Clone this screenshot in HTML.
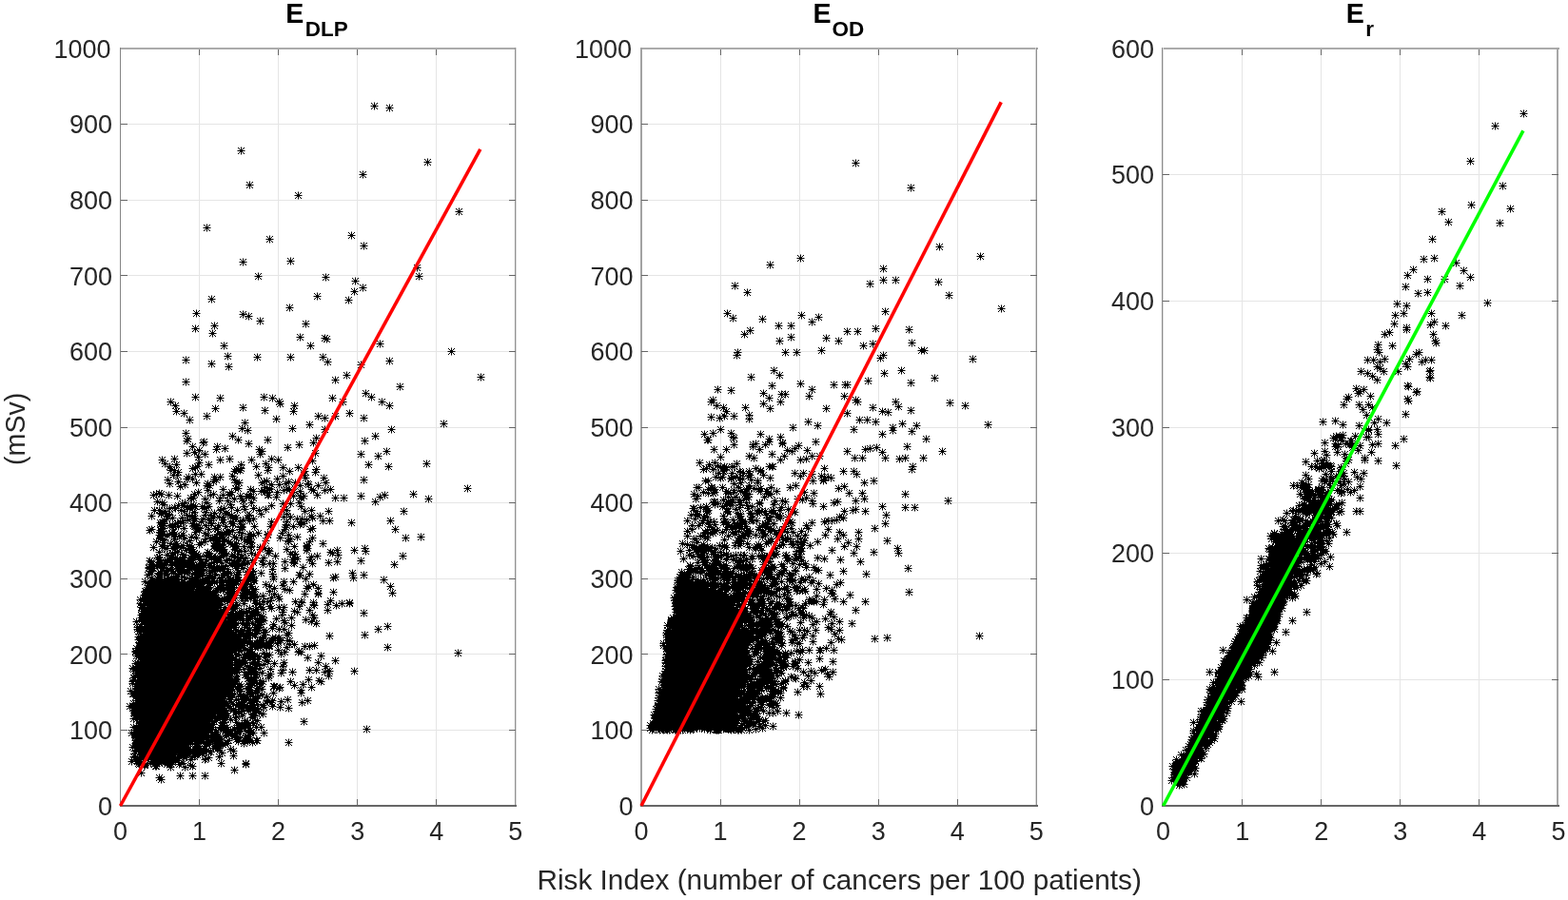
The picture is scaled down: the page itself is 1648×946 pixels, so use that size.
<!DOCTYPE html><html><head><meta charset="utf-8"><style>html,body{margin:0;padding:0;background:#fff;overflow:hidden}svg{display:block}text{font-family:"Liberation Sans",Arial,Helvetica,sans-serif}</style></head><body><svg width="1648" height="946" viewBox="0 0 1648 946"><defs><marker id="a" markerUnits="userSpaceOnUse" markerWidth="11" markerHeight="11" refX="5" refY="5" overflow="visible"><path d="M1.5 5.5h8M5.5 1.5v8M2 2l7 7M2 9l7-7" stroke="#000" stroke-width="1" fill="none"/></marker></defs><rect width="100%" height="100%" fill="#fff"/><path d="M209 52h1V846h-1ZM292 52h1V846h-1ZM375 52h1V846h-1ZM458 52h1V846h-1ZM127 767H541v1H127ZM127 687H541v1H127ZM127 608H541v1H127ZM127 528H541v1H127ZM127 449H541v1H127ZM127 369H541v1H127ZM127 289H541v1H127ZM127 210H541v1H127ZM127 130H541v1H127ZM757 52h1V846h-1ZM840 52h1V846h-1ZM923 52h1V846h-1ZM1006 52h1V846h-1ZM674 767H1089v1H674ZM674 687H1089v1H674ZM674 608H1089v1H674ZM674 528H1089v1H674ZM674 449H1089v1H674ZM674 369H1089v1H674ZM674 289H1089v1H674ZM674 210H1089v1H674ZM674 130H1089v1H674ZM1305 52h1V846h-1ZM1388 52h1V846h-1ZM1471 52h1V846h-1ZM1554 52h1V846h-1ZM1223 714H1637v1H1223ZM1223 581H1637v1H1223ZM1223 449H1637v1H1223ZM1223 316H1637v1H1223ZM1223 183H1637v1H1223Z" fill="#e5e5e5"/><path d="M159.0 611.5 160.5 611.0 162.5 611.0 164.5 611.0 166.5 611.0 168.5 611.0 170.5 611.0 172.5 611.0 174.5 611.0 176.0 611.5 177.5 612.0 179.5 612.0 180.5 613.0 182.5 613.0 184.0 613.5 185.5 614.0 187.0 614.5 188.5 615.0 190.5 615.0 191.5 616.0 193.5 616.0 194.5 617.0 196.5 617.0 197.5 618.0 199.5 618.0 200.5 619.0 202.0 619.5 203.5 620.0 205.0 620.5 206.5 621.0 207.5 622.0 209.0 622.5 210.5 623.0 211.5 624.0 213.0 624.5 214.0 625.5 215.5 626.0 216.5 627.0 217.5 628.0 219.0 628.5 220.0 629.5 221.0 630.5 222.0 631.5 223.0 632.5 224.0 633.5 225.0 634.5 226.0 635.5 227.0 636.5 227.5 638.0 228.5 639.0 229.0 640.5 230.0 641.5 231.0 642.5 231.5 644.0 232.0 645.5 233.0 646.5 233.5 648.0 234.0 649.5 235.0 650.5 235.5 652.0 236.0 653.5 236.5 655.0 237.0 656.5 238.0 657.5 238.0 659.5 239.0 660.5 239.0 662.5 239.5 664.0 240.0 665.5 240.0 667.5 241.0 668.5 241.0 670.5 241.0 672.5 242.0 673.5 242.0 675.5 242.0 677.5 242.0 679.5 243.0 680.5 243.0 682.5 243.0 684.5 243.0 686.5 243.0 688.5 243.0 690.5 243.0 692.5 243.0 694.5 243.0 696.5 243.0 698.5 243.0 700.5 243.0 702.5 243.0 704.5 242.5 706.0 242.0 707.5 242.0 709.5 242.0 711.5 241.5 713.0 241.0 714.5 241.0 716.5 240.0 717.5 240.0 719.5 239.5 721.0 239.0 722.5 239.0 724.5 238.0 725.5 237.5 727.0 237.0 728.5 236.5 730.0 236.0 731.5 235.0 732.5 234.5 734.0 234.0 735.5 233.0 736.5 232.5 738.0 232.0 739.5 231.0 740.5 230.5 742.0 230.0 743.5 229.0 744.5 228.0 745.5 227.5 747.0 227.0 748.5 226.0 749.5 225.5 751.0 225.0 752.5 224.0 753.5 223.5 755.0 223.0 756.5 222.0 757.5 221.5 759.0 221.0 760.5 220.0 761.5 219.5 763.0 219.0 764.5 218.0 765.5 217.0 766.5 216.5 768.0 216.0 769.5 215.0 770.5 214.0 771.5 213.0 772.5 212.5 774.0 211.5 775.0 210.5 776.0 209.0 776.5 208.0 777.5 207.0 778.5 205.5 779.0 204.5 780.0 203.0 780.5 202.0 781.5 200.5 782.0 199.5 783.0 198.5 784.0 197.0 784.5 196.0 785.5 194.5 786.0 193.5 787.0 192.5 788.0 191.5 789.0 190.5 790.0 189.0 790.5 188.0 791.5 187.0 792.5 186.0 793.5 185.0 794.5 184.0 795.5 183.0 796.5 182.0 797.5 180.5 798.0 179.5 799.0 177.5 799.0 175.5 799.0 173.5 799.0 171.5 799.0 169.5 799.0 167.5 799.0 165.5 799.0 163.5 799.0 161.5 799.0 159.5 799.0 157.5 799.0 155.5 799.0 153.5 799.0 151.5 799.0 149.5 799.0 147.5 799.0 146.5 798.0 146.0 796.5 146.0 794.5 146.0 792.5 146.0 790.5 146.0 788.5 146.0 786.5 146.0 784.5 146.0 782.5 146.0 780.5 146.0 778.5 146.0 776.5 146.0 774.5 146.0 772.5 146.0 770.5 146.0 768.5 146.0 766.5 146.0 764.5 146.0 762.5 146.0 760.5 146.0 758.5 146.0 756.5 146.0 754.5 146.0 752.5 146.0 750.5 146.0 748.5 146.0 746.5 146.0 744.5 146.0 742.5 146.0 740.5 146.0 738.5 146.0 736.5 146.0 734.5 146.0 732.5 146.0 730.5 146.0 728.5 146.0 726.5 146.0 724.5 146.0 722.5 146.0 720.5 146.0 718.5 146.0 716.5 146.0 714.5 146.0 712.5 146.0 710.5 146.0 708.5 146.0 706.5 147.0 705.5 147.0 703.5 147.0 701.5 147.0 699.5 147.0 697.5 147.0 695.5 147.0 693.5 148.0 692.5 148.0 690.5 148.0 688.5 148.0 686.5 149.0 685.5 149.0 683.5 149.0 681.5 149.0 679.5 150.0 678.5 150.0 676.5 150.0 674.5 150.0 672.5 150.0 670.5 151.0 669.5 151.0 667.5 151.0 665.5 151.0 663.5 151.0 661.5 151.5 660.0 152.0 658.5 152.0 656.5 152.0 654.5 152.0 652.5 152.0 650.5 153.0 649.5 153.0 647.5 153.0 645.5 153.0 643.5 153.5 642.0 154.0 640.5 154.0 638.5 154.0 636.5 154.0 634.5 155.0 633.5 155.0 631.5 155.0 629.5 155.5 628.0 156.0 626.5 156.0 624.5 156.0 622.5 157.0 621.5 157.0 619.5 157.0 617.5 158.0 616.5 158.0 614.5 158.0 612.5 159.0 611.5Z" fill="#000"/><path d="M717.0 609.5 718.5 609.0 720.0 609.5 721.5 610.0 723.0 610.5 724.5 611.0 726.0 611.5 727.5 612.0 729.0 612.5 730.5 613.0 732.0 613.5 733.5 614.0 735.0 614.5 736.5 615.0 737.5 616.0 739.5 616.0 740.5 617.0 742.0 617.5 743.5 618.0 745.0 618.5 746.5 619.0 747.5 620.0 749.0 620.5 750.5 621.0 751.5 622.0 752.5 623.0 754.0 623.5 755.0 624.5 756.5 625.0 757.5 626.0 758.5 627.0 760.0 627.5 761.0 628.5 762.0 629.5 763.0 630.5 764.0 631.5 765.0 632.5 765.5 634.0 766.0 635.5 767.0 636.5 768.0 637.5 768.5 639.0 769.0 640.5 770.0 641.5 770.5 643.0 771.0 644.5 772.0 645.5 772.5 647.0 773.0 648.5 774.0 649.5 774.0 651.5 775.0 652.5 775.0 654.5 775.5 656.0 776.0 657.5 776.0 659.5 776.0 661.5 777.0 662.5 777.0 664.5 777.0 666.5 777.0 668.5 777.5 670.0 778.0 671.5 778.0 673.5 778.0 675.5 778.0 677.5 779.0 678.5 779.0 680.5 779.0 682.5 779.0 684.5 779.0 686.5 779.0 688.5 779.0 690.5 779.0 692.5 779.0 694.5 779.0 696.5 779.0 698.5 779.0 700.5 778.0 701.5 778.0 703.5 778.0 705.5 778.0 707.5 778.0 709.5 777.5 711.0 777.0 712.5 777.0 714.5 777.0 716.5 777.0 718.5 776.0 719.5 776.0 721.5 776.0 723.5 776.0 725.5 775.0 726.5 775.0 728.5 775.0 730.5 774.5 732.0 774.0 733.5 774.0 735.5 773.5 737.0 773.0 738.5 773.0 740.5 773.0 742.5 772.0 743.5 772.0 745.5 772.0 747.5 772.0 749.5 771.0 750.5 771.0 752.5 771.0 754.5 770.5 756.0 770.0 757.5 770.0 759.5 770.0 761.5 769.5 763.0 768.5 764.0 766.5 764.0 764.5 764.0 762.5 764.0 760.5 764.0 758.5 764.0 756.5 764.0 754.5 764.0 752.5 764.0 750.5 764.0 748.5 764.0 746.5 764.0 744.5 764.0 742.5 764.0 740.5 764.0 738.5 764.0 736.5 764.0 734.5 764.0 732.5 764.0 730.5 764.0 728.5 764.0 726.5 764.0 724.5 764.0 722.5 764.0 720.5 764.0 718.5 764.0 716.5 764.0 714.5 764.0 712.5 764.0 710.5 764.0 708.5 764.0 706.5 764.0 704.5 764.0 702.5 764.0 700.5 764.0 698.5 764.0 696.5 764.0 694.5 764.0 692.5 764.0 690.5 764.0 690.0 762.5 691.0 761.5 691.0 759.5 691.0 757.5 692.0 756.5 692.0 754.5 692.5 753.0 693.0 751.5 693.0 749.5 694.0 748.5 694.0 746.5 695.0 745.5 695.0 743.5 695.5 742.0 696.0 740.5 696.0 738.5 696.5 737.0 697.0 735.5 697.0 733.5 698.0 732.5 698.0 730.5 698.5 729.0 699.0 727.5 699.0 725.5 699.0 723.5 700.0 722.5 700.0 720.5 700.0 718.5 700.0 716.5 701.0 715.5 701.0 713.5 701.0 711.5 701.0 709.5 702.0 708.5 702.0 706.5 702.0 704.5 702.0 702.5 702.5 701.0 703.0 699.5 703.0 697.5 703.0 695.5 703.5 694.0 704.0 692.5 704.0 690.5 704.0 688.5 704.5 687.0 705.0 685.5 705.0 683.5 705.0 681.5 705.5 680.0 706.0 678.5 706.0 676.5 706.0 674.5 706.5 673.0 707.0 671.5 707.0 669.5 707.0 667.5 708.0 666.5 708.0 664.5 708.0 662.5 708.5 661.0 709.0 659.5 709.0 657.5 709.0 655.5 710.0 654.5 710.0 652.5 710.0 650.5 710.5 649.0 711.0 647.5 711.0 645.5 711.0 643.5 712.0 642.5 712.0 640.5 712.0 638.5 712.5 637.0 713.0 635.5 713.0 633.5 713.0 631.5 714.0 630.5 714.0 628.5 714.0 626.5 714.5 625.0 715.0 623.5 715.0 621.5 715.0 619.5 716.0 618.5 716.0 616.5 716.0 614.5 717.0 613.5 717.0 611.5 717.0 609.5Z" fill="#000"/><path d="M1345.0 567.5 1346.5 567.0 1348.5 567.0 1350.5 567.0 1352.5 567.0 1354.5 567.0 1356.5 567.0 1358.5 567.0 1360.5 567.0 1362.5 567.0 1364.5 567.0 1366.5 567.0 1368.5 567.0 1370.0 567.5 1369.5 569.0 1369.0 570.5 1369.0 572.5 1368.0 573.5 1368.0 575.5 1367.5 577.0 1367.0 578.5 1366.5 580.0 1366.0 581.5 1365.0 582.5 1364.5 584.0 1364.0 585.5 1363.0 586.5 1362.5 588.0 1362.0 589.5 1361.0 590.5 1360.5 592.0 1360.0 593.5 1359.0 594.5 1358.5 596.0 1358.0 597.5 1357.0 598.5 1357.0 600.5 1356.0 601.5 1356.0 603.5 1355.5 605.0 1355.0 606.5 1355.0 608.5 1354.0 609.5 1354.0 611.5 1353.5 613.0 1353.0 614.5 1353.0 616.5 1352.0 617.5 1352.0 619.5 1351.0 620.5 1351.0 622.5 1350.0 623.5 1349.5 625.0 1349.0 626.5 1348.5 628.0 1348.0 629.5 1347.5 631.0 1347.0 632.5 1346.5 634.0 1346.0 635.5 1345.0 636.5 1344.5 638.0 1344.0 639.5 1343.0 640.5 1342.5 642.0 1342.0 643.5 1341.5 645.0 1341.0 646.5 1340.0 647.5 1339.5 649.0 1339.0 650.5 1338.0 651.5 1337.5 653.0 1337.0 654.5 1336.5 656.0 1336.0 657.5 1335.0 658.5 1335.0 660.5 1334.0 661.5 1333.5 663.0 1333.0 664.5 1332.0 665.5 1332.0 667.5 1331.0 668.5 1330.5 670.0 1330.0 671.5 1329.5 673.0 1329.0 674.5 1328.0 675.5 1327.5 677.0 1327.0 678.5 1326.5 680.0 1326.0 681.5 1325.0 682.5 1324.5 684.0 1324.0 685.5 1323.0 686.5 1322.0 687.5 1321.5 689.0 1320.5 690.0 1320.0 691.5 1319.0 692.5 1318.0 693.5 1317.0 694.5 1316.5 696.0 1315.5 697.0 1315.0 698.5 1314.0 699.5 1313.0 700.5 1312.5 702.0 1311.5 703.0 1310.5 704.0 1310.0 705.5 1309.0 706.5 1308.0 707.5 1307.5 709.0 1306.5 710.0 1306.0 711.5 1305.0 712.5 1304.5 714.0 1304.0 715.5 1303.0 716.5 1302.5 718.0 1301.5 719.0 1301.0 720.5 1300.0 721.5 1299.5 723.0 1299.0 724.5 1298.0 725.5 1297.5 727.0 1296.5 728.0 1296.0 729.5 1295.0 730.5 1294.0 731.5 1293.0 732.5 1292.5 734.0 1291.5 735.0 1291.0 736.5 1290.0 737.5 1289.0 738.5 1288.5 740.0 1287.5 741.0 1287.0 742.5 1286.0 743.5 1285.5 745.0 1285.0 746.5 1284.0 747.5 1283.5 749.0 1283.0 750.5 1282.0 751.5 1281.5 753.0 1281.0 754.5 1280.0 755.5 1279.5 757.0 1279.0 758.5 1278.0 759.5 1277.5 761.0 1277.0 762.5 1276.0 763.5 1275.0 764.5 1274.5 766.0 1274.0 767.5 1273.0 768.5 1272.5 770.0 1272.0 771.5 1271.0 772.5 1270.5 774.0 1269.5 775.0 1269.0 776.5 1268.0 777.5 1267.5 779.0 1267.0 780.5 1266.0 781.5 1265.5 783.0 1264.5 784.0 1264.0 785.5 1263.0 786.5 1262.5 788.0 1261.5 789.0 1261.0 790.5 1260.0 791.5 1259.5 793.0 1258.5 794.0 1258.0 795.5 1257.0 796.5 1256.0 797.5 1255.5 799.0 1255.0 800.5 1254.0 801.5 1253.0 802.5 1252.5 804.0 1252.0 805.5 1251.0 806.5 1250.0 807.5 1249.5 809.0 1248.5 810.0 1247.5 811.0 1246.5 812.0 1245.5 813.0 1244.5 814.0 1244.0 815.5 1243.0 816.5 1242.0 817.5 1240.5 818.0 1239.0 818.5 1238.0 818.5 1237.0 817.5 1237.0 815.5 1237.5 814.0 1238.0 812.5 1238.5 811.0 1239.0 809.5 1240.0 808.5 1240.5 807.0 1241.0 805.5 1242.0 804.5 1242.5 803.0 1243.5 802.0 1244.0 800.5 1245.0 799.5 1245.5 798.0 1246.5 797.0 1247.0 795.5 1248.0 794.5 1248.5 793.0 1249.0 791.5 1250.0 790.5 1251.0 789.5 1251.5 788.0 1252.0 786.5 1253.0 785.5 1253.5 784.0 1254.0 782.5 1255.0 781.5 1255.0 779.5 1256.0 778.5 1256.5 777.0 1257.0 775.5 1258.0 774.5 1258.0 772.5 1259.0 771.5 1259.5 770.0 1260.0 768.5 1260.5 767.0 1261.0 765.5 1262.0 764.5 1262.0 762.5 1263.0 761.5 1263.5 760.0 1264.0 758.5 1265.0 757.5 1265.0 755.5 1266.0 754.5 1266.5 753.0 1267.0 751.5 1267.5 750.0 1268.0 748.5 1269.0 747.5 1269.5 746.0 1270.0 744.5 1270.5 743.0 1271.0 741.5 1272.0 740.5 1272.0 738.5 1273.0 737.5 1273.5 736.0 1274.0 734.5 1275.0 733.5 1275.0 731.5 1276.0 730.5 1276.5 729.0 1277.0 727.5 1277.5 726.0 1278.0 724.5 1279.0 723.5 1279.5 722.0 1280.0 720.5 1280.5 719.0 1281.0 717.5 1282.0 716.5 1282.5 715.0 1283.0 713.5 1283.5 712.0 1284.0 710.5 1285.0 709.5 1285.0 707.5 1286.0 706.5 1286.5 705.0 1287.0 703.5 1288.0 702.5 1288.5 701.0 1289.0 699.5 1290.0 698.5 1290.5 697.0 1291.0 695.5 1292.0 694.5 1292.5 693.0 1293.0 691.5 1294.0 690.5 1294.5 689.0 1295.5 688.0 1296.0 686.5 1297.0 685.5 1297.5 684.0 1298.0 682.5 1299.0 681.5 1299.5 680.0 1300.0 678.5 1301.0 677.5 1301.5 676.0 1302.5 675.0 1303.0 673.5 1304.0 672.5 1304.5 671.0 1305.0 669.5 1306.0 668.5 1306.5 667.0 1307.0 665.5 1308.0 664.5 1308.5 663.0 1309.0 661.5 1310.0 660.5 1310.5 659.0 1311.0 657.5 1312.0 656.5 1312.5 655.0 1313.0 653.5 1314.0 652.5 1314.5 651.0 1315.0 649.5 1316.0 648.5 1316.5 647.0 1317.5 646.0 1318.0 644.5 1319.0 643.5 1319.5 642.0 1320.0 640.5 1321.0 639.5 1322.0 638.5 1322.5 637.0 1323.0 635.5 1324.0 634.5 1324.5 633.0 1325.0 631.5 1326.0 630.5 1326.5 629.0 1327.0 627.5 1327.5 626.0 1328.0 624.5 1329.0 623.5 1329.0 621.5 1329.5 620.0 1330.0 618.5 1330.0 616.5 1331.0 615.5 1331.0 613.5 1331.0 611.5 1332.0 610.5 1332.0 608.5 1332.5 607.0 1333.0 605.5 1333.0 603.5 1333.5 602.0 1334.0 600.5 1334.5 599.0 1335.0 597.5 1335.0 595.5 1336.0 594.5 1336.0 592.5 1337.0 591.5 1337.0 589.5 1338.0 588.5 1338.0 586.5 1338.5 585.0 1339.0 583.5 1339.5 582.0 1340.0 580.5 1341.0 579.5 1341.0 577.5 1342.0 576.5 1342.5 575.0 1343.0 573.5 1343.5 572.0 1344.0 570.5 1345.0 569.5 1345.0 567.5Z" fill="#000"/><polyline points="290,440 257,444 325,446 254,450 307,450 341,451 260,452 195,455 244,458 332,460 197,461 250,462 281,462 196,463 214,464 213,465 329,465 261,466 314,467 202,469 228,469 302,470 236,471 227,472 272,472 209,473 275,474 204,475 196,476 331,476 215,477 273,477 208,480 183,482 241,482 285,482 170,483 231,483 264,483 292,483 328,484 209,486 173,487 279,487 185,488 219,488 253,488 178,490 207,490 269,490 205,491 282,491 297,491 313,491 202,492 253,492 248,493 250,493 332,493 179,494 183,494 252,494 281,494 246,495 304,495 320,495 187,496 331,496 205,498 211,498 182,499 186,499 271,499 319,499 244,500 297,500 198,501 225,501 231,501 321,502 340,502 196,503 202,503 291,503 176,504 227,504 246,504 280,505 187,506 224,506 277,506 303,506 206,507 248,507 251,507 275,507 310,507 342,507 178,508 218,508 300,508 323,508 194,509 285,509 293,509 324,509 217,510 220,510 315,510 334,510 189,511 278,512 247,513 250,513 283,513 234,514 263,514 283,514 301,514 304,514 327,514 347,514 218,515 277,515 298,515 329,515 341,515 266,516 274,516 315,516 208,517 243,517 278,517 291,517 308,517 167,518 164,519 169,519 204,519 224,519 241,519 263,519 161,520 177,520 221,520 234,520 241,520 281,520 282,520 333,520 186,521 252,521 259,521 308,521 315,521 319,521 261,522 290,522 200,523 203,523 231,523 266,523 316,523 352,523 361,523 201,524 215,524 246,524 254,524 230,526 239,526 255,526 165,527 170,528 194,528 217,528 264,528 314,528 191,529 297,529 305,529 172,530 242,530 187,531 193,531 200,531 203,531 285,531 205,532 212,532 219,532 256,532 316,532 183,533 196,533 197,533 217,533 243,533 178,534 184,534 199,534 214,534 235,534 266,534 232,535 257,535 279,535 298,535 162,536 167,536 190,536 231,536 249,536 272,536 301,536 327,536 173,537 193,537 320,537 345,537 204,538 216,538 169,539 225,539 237,539 169,540 177,540 239,540 274,540 301,540 178,541 196,541 215,541 221,541 243,541 262,541 159,542 174,542 199,542 204,542 222,542 261,542 327,542 336,542 202,543 230,543 234,543 298,543 305,543 181,544 191,544 204,544 224,544 244,544 247,544 248,544 260,544 328,544 175,545 213,545 266,545 312,545 317,545 172,546 197,546 219,546 234,546 255,546 322,546 192,547 204,547 262,547 339,547 346,547 189,548 211,548 242,548 252,548 285,548 301,548 315,548 168,549 170,549 192,549 221,549 234,549 369,549 171,550 172,550 184,550 186,550 202,550 222,550 244,550 245,550 319,550 169,551 300,551 315,551 178,552 181,552 203,552 206,552 216,552 229,552 301,552 169,553 187,553 204,553 237,553 253,553 254,553 267,553 284,553 308,553 181,554 206,554 252,554 254,554 300,554 170,555 172,555 193,555 210,555 226,555 328,555 159,556 219,556 228,556 252,556 299,556 326,556 157,557 168,557 209,557 244,557 239,558 182,559 205,559 241,559 251,559 168,560 180,560 215,560 235,560 237,560 254,560 271,560 296,560 171,561 180,561 183,561 228,561 240,561 262,561 281,561 167,562 168,562 175,562 192,562 218,562 232,562 233,562 266,562 281,562 303,562 169,563 170,563 188,563 190,563 183,564 201,564 246,564 260,564 312,564 168,565 206,565 223,565 225,565 228,565 248,565 253,565 294,565 328,565 168,566 183,566 193,566 216,566 221,566 230,566 263,566 305,566 173,567 236,567 257,567 199,568 227,568 229,568 236,568 279,568 302,568 164,569 215,569 229,569 240,569 259,569 262,569 303,569 325,569 171,570 211,570 227,570 264,570 179,571 185,571 230,571 242,571 248,571 339,571 184,572 209,572 233,572 244,572 192,573 197,573 199,573 225,573 233,573 247,573 322,573 170,574 183,574 185,574 225,574 249,574 256,574 264,574 309,574 322,574 161,575 190,575 201,575 226,575 231,575 263,575 273,575 173,576 175,576 181,576 184,576 199,576 227,576 228,576 231,576 278,576 323,576 200,577 234,577 235,577 246,577 273,577 301,577 195,578 230,578 234,578 247,578 282,578 322,578 354,578 203,579 251,579 253,579 257,579 283,579 167,580 186,580 201,580 218,580 234,580 347,580 181,581 204,581 220,581 264,581 282,581 349,581 191,582 206,582 238,582 305,582 310,582 175,583 193,583 205,583 206,583 217,583 234,583 253,583 268,583 309,583 355,583 179,584 202,584 208,584 216,584 219,584 232,584 235,584 243,584 246,584 289,584 333,584 167,585 180,585 192,585 205,585 210,585 222,585 226,585 249,585 327,585 165,586 180,586 184,586 193,586 200,586 222,586 231,586 250,586 258,586 277,586 210,587 252,587 312,587 167,588 178,588 185,588 189,588 192,588 201,588 203,588 209,588 216,588 228,588 241,588 307,588 308,588 325,588 157,589 169,589 173,589 191,589 200,589 228,589 237,589 251,589 256,589 265,589 275,589 159,590 176,590 187,590 188,590 194,590 225,590 299,590 354,590 167,591 174,591 183,591 198,591 200,591 202,591 213,591 224,591 232,591 245,591 260,591 266,591 308,591 345,591 196,592 198,592 215,592 243,592 247,592 283,592 287,592 309,592 328,592 158,593 161,593 167,593 179,593 181,593 187,593 194,593 210,593 213,593 244,593 251,593 257,593 276,593 164,594 170,594 171,594 184,594 187,594 193,594 202,594 206,594 219,594 220,594 237,594 253,594 165,595 188,595 198,595 204,595 247,595 156,596 159,596 172,596 189,596 198,596 200,596 201,596 206,596 318,596 156,597 160,597 170,597 171,597 175,597 186,597 189,597 205,597 224,597 225,597 227,597 230,597 233,597 249,597 255,597 299,597 180,598 199,598 206,598 210,598 211,598 213,598 225,598 231,598 234,598 239,598 286,598 175,599 190,599 198,599 208,599 214,599 157,600 160,600 180,600 190,600 193,600 211,600 220,600 235,600 261,600 262,600 266,600 191,601 250,601 259,601 265,601 166,602 169,602 173,602 182,602 196,602 207,602 212,602 220,602 242,602 274,602 157,603 175,603 188,603 202,603 207,603 226,603 238,603 263,603 265,603 286,603 325,603 155,604 173,604 187,604 209,604 210,604 213,604 220,604 234,604 248,604 250,604 314,604 315,604 239,605 167,606 169,606 180,606 184,606 186,606 191,606 206,606 249,606 263,606 266,606 287,606 352,606 159,607 177,607 194,607 217,607 220,607 225,607 230,607 232,607 240,607 264,607 350,607 165,608 173,608 180,608 199,608 201,608 205,608 242,608 260,608 266,608 287,608 321,608 160,609 168,609 180,609 184,609 206,609 216,609 241,609 245,609 250,609 169,610 200,610 212,610 215,610 223,610 231,610 234,610 241,610 245,610 250,610 266,610 267,610 152,611 164,611 167,611 175,611 187,611 193,611 210,611 214,611 225,611 237,611 260,611 298,611 308,611 157,612 160,612 163,612 168,612 179,612 182,612 190,612 204,612 219,612 220,612 225,612 233,612 240,612 245,612 257,612 156,613 164,613 165,613 166,613 175,613 177,613 183,613 185,613 194,613 205,613 209,613 211,613 221,613 248,613 256,613 163,614 178,614 183,614 184,614 187,614 191,614 194,614 197,614 203,614 207,614 209,614 239,614 246,614 255,614 259,614 263,614 279,614 329,614 155,615 157,615 161,615 165,615 166,615 171,615 179,615 180,615 181,615 183,615 189,615 191,615 199,615 209,615 232,615 241,615 242,615 297,615 161,616 176,616 184,616 206,616 217,616 240,616 264,616 283,616 324,616 187,617 192,617 214,617 220,617 230,617 239,617 245,617 254,617 257,617 156,618 158,618 160,618 186,618 190,618 191,618 195,618 200,618 210,618 214,618 217,618 219,618 228,618 235,618 243,618 253,618 288,618 322,618 334,618 159,619 160,619 192,619 195,619 197,619 200,619 202,619 208,619 217,619 229,619 231,619 238,619 241,619 258,619 268,619 299,619 154,620 196,620 199,620 211,620 214,620 234,620 304,620 152,621 153,621 155,621 160,621 211,621 219,621 242,621 245,621 257,621 259,621 260,621 265,621 283,621 153,622 157,622 200,622 205,622 207,622 221,622 227,622 243,622 262,622 350,622 153,623 156,623 158,623 160,623 200,623 206,623 209,623 211,623 215,623 221,623 255,623 259,623 265,623 334,623 154,624 157,624 206,624 211,624 214,624 224,624 239,624 244,624 256,624 262,624 267,624 288,624 320,624 334,624 151,625 209,625 211,625 212,625 214,625 255,625 266,625 152,626 154,626 223,626 240,626 241,626 243,626 276,626 156,627 157,627 210,627 217,627 218,627 238,627 257,627 270,627 292,627 151,628 157,628 215,628 217,628 223,628 224,628 225,628 229,628 247,628 253,628 255,628 257,628 260,628 266,628 285,628 157,629 159,629 215,629 220,629 225,629 226,629 235,629 242,629 263,629 293,629 147,630 150,630 153,630 154,630 218,630 223,630 225,630 233,630 241,630 153,631 159,631 226,631 227,631 233,631 241,631 242,631 268,631 284,631 347,631 151,632 157,632 158,632 222,632 225,632 228,632 230,632 232,632 239,632 277,632 281,632 310,632 316,632 156,633 159,633 222,633 244,633 269,633 317,633 329,633 367,633 147,634 154,634 155,634 158,634 223,634 224,634 227,634 256,634 268,634 272,634 359,634 367,634 157,635 224,635 230,635 248,635 273,635 329,635 344,635 150,636 157,636 229,636 249,636 330,636 353,636 157,637 228,637 283,637 314,637 148,638 149,638 157,638 223,638 231,638 236,638 274,638 293,638 298,638 245,639 262,639 285,639 152,640 244,640 245,640 269,640 276,640 156,641 236,641 325,641 344,641 149,642 226,642 229,642 253,642 259,642 266,642 268,642 309,642 152,643 229,643 232,643 235,643 251,643 258,643 269,643 297,643 312,643 149,644 153,644 157,644 230,644 236,644 244,644 256,644 264,644 154,645 230,645 232,645 235,645 242,645 245,645 255,645 148,646 151,646 232,646 247,646 264,646 265,646 268,646 270,646 296,646 328,646 153,647 155,647 157,647 229,647 231,647 232,647 234,647 245,647 247,647 252,647 253,647 254,647 260,647 274,647 156,648 230,648 233,648 242,648 247,648 276,648 148,649 150,649 151,649 239,649 262,649 306,649 330,649 153,650 261,650 268,650 290,650 149,651 155,651 231,651 234,651 242,651 252,651 261,651 321,651 148,652 156,652 236,652 241,652 246,652 255,652 259,652 277,652 298,652 143,653 151,653 155,653 156,653 270,653 272,653 275,653 327,653 154,654 231,654 233,654 234,654 244,654 245,654 247,654 259,654 271,654 299,654 153,655 154,655 155,655 156,655 237,655 240,655 248,655 254,655 265,655 332,655 148,656 154,656 156,656 233,656 274,656 287,656 239,657 243,657 259,657 272,657 306,657 153,658 239,658 144,659 234,659 239,659 245,659 247,659 257,659 259,659 268,659 273,659 270,660 271,660 286,660 144,661 147,661 148,661 149,661 151,661 153,661 268,661 293,661 298,661 150,662 235,662 240,662 241,662 248,662 254,662 261,662 262,662 269,662 270,662 272,662 277,662 146,663 250,663 259,663 151,664 240,664 243,664 253,664 279,664 239,665 245,665 259,665 268,665 303,665 154,666 242,666 244,666 252,666 258,666 260,666 265,666 269,666 154,667 155,667 238,667 242,667 244,667 253,667 255,667 261,667 265,667 278,667 301,667 153,668 242,668 250,668 260,668 262,668 346,668 145,669 147,669 152,669 248,669 258,669 276,669 240,670 242,670 247,670 261,670 286,670 289,670 293,670 149,671 152,671 238,671 239,671 245,671 249,671 256,671 276,671 292,671 145,672 152,672 238,672 244,672 249,672 273,672 294,672 153,673 239,673 243,673 248,673 253,673 270,673 274,673 275,673 276,673 285,673 295,673 302,673 304,673 149,674 152,674 237,674 239,674 256,674 284,674 146,675 148,675 149,675 242,675 246,675 249,675 255,675 259,675 280,675 292,675 151,676 153,676 245,676 251,676 260,676 265,676 272,676 291,676 240,677 243,677 246,677 264,677 265,677 267,677 304,677 309,677 147,678 241,678 244,678 254,678 275,678 283,678 330,678 146,679 147,679 237,679 241,679 246,679 248,679 253,679 270,679 279,679 282,679 283,679 320,679 325,679 147,680 151,680 239,680 253,680 268,680 271,680 273,680 301,680 143,681 153,681 239,681 243,681 247,681 252,681 257,681 148,682 263,682 151,683 242,683 292,683 142,684 146,684 148,684 150,684 151,684 152,684 246,684 247,684 251,684 262,684 314,684 142,685 147,685 149,685 151,685 153,685 242,685 262,685 299,685 313,685 316,685 147,686 240,686 241,686 261,686 265,686 277,686 146,687 264,687 295,687 147,688 243,688 248,688 251,688 256,688 259,688 264,688 280,688 283,688 143,689 145,689 146,689 148,689 264,689 270,689 337,689 150,690 241,690 244,690 258,690 266,690 267,690 272,690 279,690 152,691 240,691 255,691 262,691 263,691 265,691 323,691 239,692 247,692 149,693 151,693 238,693 240,693 241,693 244,693 150,694 240,694 241,694 257,694 279,694 352,694 150,695 254,695 271,695 281,695 247,696 248,696 251,696 252,696 254,696 258,696 265,696 298,696 142,697 144,697 145,697 249,697 253,697 288,697 145,698 149,698 241,698 252,698 267,698 277,698 248,699 272,699 149,700 151,700 239,700 260,700 262,700 297,700 147,701 149,701 151,701 240,701 241,701 250,701 139,702 143,702 238,702 244,702 246,702 263,702 273,702 140,703 143,703 148,703 239,703 251,703 256,703 267,703 268,703 284,703 149,704 241,704 244,704 263,704 264,704 297,704 332,704 150,705 263,705 264,705 267,705 344,705 145,706 148,706 239,706 241,706 246,706 249,706 267,706 269,706 307,706 341,706 144,707 150,707 242,707 248,707 263,707 264,707 275,707 295,707 148,708 238,708 284,708 147,709 148,709 149,709 239,709 257,709 258,709 268,709 142,710 150,710 237,710 282,710 345,710 142,711 240,711 248,711 269,711 140,712 141,712 238,712 239,712 241,712 261,712 282,712 237,713 247,713 248,713 260,713 263,713 266,713 248,714 264,714 324,714 144,715 146,715 148,715 149,715 241,715 267,715 273,715 139,716 145,716 148,716 236,716 239,716 244,716 276,716 246,717 269,717 139,718 149,718 236,718 241,718 247,718 262,718 265,718 270,718 274,718 148,719 150,719 251,719 261,719 273,719 318,719 145,720 146,720 238,720 239,720 309,720 143,721 145,721 235,721 236,721 237,721 243,721 245,721 253,721 287,721 147,722 241,722 243,722 251,722 263,722 294,722 260,723 270,723 272,723 143,724 234,724 235,724 243,724 249,724 251,724 261,724 275,724 150,725 233,725 269,725 316,725 137,726 142,726 144,726 240,726 253,726 270,726 150,727 234,727 237,727 262,727 268,727 149,728 232,728 240,728 242,728 262,728 287,728 316,728 139,729 140,729 143,729 147,729 148,729 232,729 239,729 246,729 252,729 262,729 265,729 231,730 232,730 234,730 253,730 275,730 144,731 147,731 148,731 233,731 239,731 241,731 252,731 271,731 142,732 232,732 235,732 256,732 257,732 280,732 148,733 149,733 150,733 230,733 232,733 243,733 148,734 232,734 233,734 255,734 256,734 259,734 266,734 269,734 148,735 229,735 241,735 242,735 248,735 250,735 261,735 263,735 267,735 302,735 143,736 144,736 146,736 148,736 149,736 280,736 286,736 323,736 230,737 232,737 255,737 269,737 281,737 295,737 146,738 149,738 229,738 236,738 251,738 265,738 266,738 285,738 317,738 140,739 142,739 147,739 233,739 234,739 238,739 253,739 263,739 147,740 245,740 254,740 270,740 145,741 146,741 227,741 231,741 232,741 234,741 250,741 255,741 257,741 265,741 276,741 136,742 141,742 231,742 240,742 252,742 286,742 140,743 143,743 233,743 251,743 256,743 260,743 263,743 266,743 277,743 294,743 139,744 143,744 228,744 234,744 242,744 259,744 260,744 270,744 303,744 145,745 146,745 148,745 225,745 227,745 230,745 233,745 245,745 271,745 142,746 145,746 149,746 245,746 268,746 141,747 144,747 148,747 226,747 228,747 229,747 233,747 234,747 238,747 254,747 261,747 141,748 142,748 147,748 148,748 226,748 248,748 253,748 141,749 221,749 226,749 232,749 237,749 248,749 267,749 268,749 272,749 141,750 143,750 147,750 221,750 237,750 265,750 276,750 144,751 146,751 148,751 220,751 231,751 234,751 144,752 147,752 148,752 224,752 236,752 239,752 254,752 144,753 145,753 148,753 220,753 226,753 233,753 235,753 248,753 265,753 146,754 150,754 220,754 225,754 228,754 247,754 265,754 140,755 149,755 150,755 221,755 231,755 143,756 147,756 219,756 237,756 242,756 218,757 227,757 257,757 270,757 149,758 223,758 148,759 233,759 236,759 248,759 260,759 265,759 146,760 150,760 234,760 256,760 259,760 266,760 148,761 215,761 218,761 220,761 224,761 220,762 250,762 251,762 261,762 147,763 148,763 234,763 252,763 257,763 140,764 143,764 214,764 219,764 221,764 231,764 238,764 253,764 269,764 274,764 220,765 232,765 234,765 251,765 261,765 147,766 148,766 149,766 212,766 217,766 219,766 223,766 246,766 143,767 148,767 149,767 150,767 226,767 234,767 236,767 242,767 244,767 262,767 263,767 147,768 219,768 250,768 253,768 258,768 141,769 217,769 219,769 221,769 227,769 239,769 263,769 138,770 143,770 213,770 243,770 262,770 263,770 266,770 277,770 143,771 144,771 226,771 248,771 141,772 149,772 150,772 209,772 210,772 211,772 238,772 244,772 142,773 212,773 221,773 228,773 238,773 243,773 247,773 258,773 142,774 145,774 150,774 210,774 212,774 221,774 231,774 249,774 146,775 149,775 203,775 204,775 209,775 217,775 252,775 145,776 146,776 207,776 224,776 227,776 231,776 144,777 146,777 204,777 209,777 212,777 213,777 217,777 218,777 222,777 231,777 248,777 261,777 142,778 148,778 150,778 202,778 206,778 207,778 210,778 211,778 228,778 240,778 262,778 149,779 199,779 208,779 226,779 250,779 260,779 146,780 149,780 209,780 220,780 228,780 233,780 265,780 142,781 200,781 226,781 232,781 236,781 239,781 256,781 145,782 149,782 194,782 195,782 206,782 217,782 220,782 234,782 142,783 143,783 192,783 142,784 147,784 195,784 209,784 215,784 139,785 146,785 189,785 191,785 193,785 194,785 196,785 206,785 229,785 150,786 189,786 195,786 224,786 229,786 230,786 149,787 204,787 209,787 215,787 228,787 242,787 145,788 149,788 150,788 190,788 195,788 197,788 200,788 202,788 213,788 214,788 141,789 188,789 197,789 200,789 206,789 217,789 219,789 245,789 192,790 197,790 202,790 221,790 194,791 198,791 207,791 212,791 233,791 146,792 182,792 197,792 199,792 205,792 212,792 148,793 149,793 183,793 188,793 205,793 207,793 149,794 154,794 157,794 161,794 162,794 173,794 177,794 189,794 192,794 196,794 245,794 140,795 142,795 150,795 156,795 159,795 166,795 173,795 180,795 181,795 188,795 202,795 204,795 230,795 141,796 156,796 170,796 182,796 193,796 219,796 150,797 156,797 181,797 187,797 216,797 164,798 176,798 180,798 200,798 215,798 144,799 145,799 165,799 168,799 170,799 174,799 181,799 184,799 187,799 138,800 144,800 160,800 165,800 172,800 176,800 180,800 148,801 161,801 163,801 166,801 173,801 177,801 181,801 145,802 158,802 167,802 179,802 192,802 232,802 146,803 152,803 162,803 175,803 188,803 151,804 152,804 200,804 163,805 164,805 202,805 179,806 194,806 148,812 167,817 169,819 189,815 202,815 215,815 246,809 258,803 257,778 270,778 393,111 409,113 253,158 449,170 381,183 262,194 313,205 482,222 217,239 283,251 369,247 382,258 255,275 305,274 271,290 342,291 373,295 381,302 372,306 366,315 438,281 440,290 222,314 333,311 206,329 255,330 261,332 273,337 225,342 223,350 205,345 304,323 321,340 315,354 341,355 343,356 326,363 399,361 235,363 239,374 240,385 195,378 222,382 270,375 305,375 339,375 344,380 379,383 409,379 474,369 420,406 505,396 195,401 352,399 364,394 384,413 390,417 401,422 409,426 205,417 231,418 277,417 286,418 293,422 179,422 184,426 185,432 193,434 199,441 217,437 226,429 255,428 278,431 294,424 309,426 308,432 334,437 341,439 352,437 367,434 382,439 349,418 360,422 466,445 383,463 394,458 411,451 379,477 397,479 406,474 387,488 408,490 448,487 382,504 491,513 379,521 399,522 404,520 394,527 434,519 450,524 424,537 410,547 415,556 426,565 442,564 423,584 414,593 383,576 384,579 379,589 382,604 403,609 410,616 412,623 382,644 383,667 397,661 407,658 407,680 481,686 372,578 371,607 370,602 307,706 305,716 325,704 327,722 334,696 342,700 346,705 335,715 337,716 372,705 319,758 385,766 303,780 288,721 293,723 269,778 258,802 257,777 260,774" fill="none" stroke="none" marker-start="url(#a)" marker-mid="url(#a)" marker-end="url(#a)"/><polyline points="756,439 757,451 749,455 768,455 740,456 799,456 770,459 820,459 771,460 808,461 743,462 744,462 808,464 857,464 822,465 794,466 822,466 771,467 791,467 804,467 839,468 791,469 835,471 750,472 763,472 798,472 827,473 848,473 832,474 811,477 787,479 824,479 853,479 861,479 757,480 792,481 847,482 820,483 841,483 735,486 751,486 774,487 745,488 754,489 761,490 769,490 771,490 808,490 811,490 812,490 757,491 763,491 742,492 794,492 866,492 739,493 749,493 761,494 799,494 760,495 777,495 787,495 799,495 778,496 755,497 769,497 781,497 835,497 844,497 853,498 788,499 802,499 786,500 841,500 863,500 752,501 759,501 773,501 866,501 870,501 757,502 768,502 777,502 809,502 873,502 768,503 780,503 789,504 865,504 741,505 744,505 796,505 854,505 865,505 778,507 796,507 771,508 787,510 836,510 887,511 732,512 734,512 747,512 748,512 759,512 776,512 810,512 830,512 787,513 792,513 799,513 881,513 744,514 751,514 784,514 797,514 750,515 771,515 763,516 778,516 799,516 805,516 806,516 816,516 739,517 751,517 765,517 771,517 782,517 845,517 744,518 749,518 765,518 783,518 855,518 729,519 787,519 807,519 810,519 733,521 765,522 773,522 786,522 803,522 784,523 847,523 731,524 784,524 838,524 760,525 769,525 777,525 843,525 814,526 822,526 853,526 750,527 751,527 765,527 770,527 825,527 880,527 749,528 769,528 777,528 778,528 784,528 798,528 876,528 754,529 763,529 798,529 854,529 751,530 778,530 813,530 763,531 767,531 785,531 742,532 759,532 790,532 865,532 736,533 777,533 821,533 728,534 729,534 786,534 742,535 773,535 828,535 744,536 796,536 812,536 819,536 896,536 732,537 742,537 743,537 764,537 765,537 800,537 804,537 810,537 833,537 887,537 764,538 798,538 835,538 775,539 788,539 796,539 812,539 731,540 733,540 778,540 790,540 815,540 726,541 733,541 805,541 760,542 778,542 820,542 743,543 776,543 777,543 789,543 810,543 816,543 828,543 882,543 739,544 740,544 806,544 820,544 730,545 761,545 778,545 770,546 789,546 790,546 808,546 879,546 722,547 738,547 791,547 795,547 870,547 874,547 746,548 750,548 762,548 780,548 783,548 830,548 866,548 738,549 744,549 760,549 763,549 780,549 828,549 832,549 853,549 772,550 780,550 804,550 807,550 813,550 751,551 764,551 765,551 774,551 777,551 804,551 727,552 734,552 801,552 847,552 745,553 769,553 774,553 779,553 784,553 825,553 769,554 776,554 798,554 804,554 807,554 779,555 809,555 831,555 849,555 727,556 749,556 763,556 769,556 797,556 823,556 824,556 870,556 743,557 753,557 785,557 801,557 813,557 819,557 722,558 751,558 776,558 788,558 809,558 842,558 741,559 759,559 770,559 827,559 833,559 882,559 741,560 746,560 749,560 801,560 818,560 772,561 786,561 815,561 780,562 781,562 794,562 804,562 817,562 819,562 846,562 867,562 722,563 736,563 740,563 765,563 781,563 782,563 786,563 838,563 741,564 801,564 819,564 743,565 776,565 777,565 822,565 729,566 731,566 810,566 825,566 828,566 830,566 841,566 880,566 761,567 823,567 776,568 779,568 845,568 778,569 807,569 810,569 831,569 838,569 859,569 732,570 773,570 841,570 844,570 891,570 717,571 778,571 785,571 805,571 833,571 722,572 739,572 797,572 823,572 832,572 834,572 842,572 727,573 756,573 761,573 772,573 776,573 819,573 851,573 740,574 743,574 761,574 795,574 799,574 887,574 729,575 740,575 748,575 763,575 787,575 793,575 839,575 732,576 734,576 735,576 739,576 741,576 744,576 751,576 794,576 815,576 841,576 842,576 731,577 739,577 724,578 739,578 740,578 744,578 800,578 874,578 715,579 837,579 842,579 732,580 750,580 757,580 840,580 813,581 733,582 749,582 751,582 763,582 812,582 816,582 836,582 724,583 738,583 758,583 773,583 778,583 782,583 814,583 826,583 728,584 757,584 764,584 768,584 781,584 790,584 797,584 801,584 803,584 808,584 825,584 735,585 739,585 743,585 751,585 755,585 806,585 841,585 737,586 802,586 809,586 827,586 837,586 859,586 718,587 790,587 801,587 829,587 866,587 738,588 763,588 770,588 778,588 784,588 835,588 883,588 750,589 774,589 781,589 827,589 842,589 740,590 755,590 807,590 809,590 733,591 741,591 742,591 833,592 846,592 740,593 750,593 753,593 757,593 776,593 777,593 788,593 802,593 821,593 840,593 725,594 743,594 748,594 749,594 760,594 763,594 776,594 783,594 787,594 725,595 775,595 777,595 781,595 811,595 823,595 748,596 750,596 751,596 779,596 783,596 804,596 810,596 814,596 847,596 855,596 731,597 735,597 743,597 744,597 749,597 758,597 762,597 771,597 778,597 791,597 805,597 810,597 723,598 725,598 731,598 749,598 764,598 785,598 808,598 811,598 738,599 744,599 753,599 784,599 800,599 824,599 835,599 857,599 860,599 726,600 748,600 749,600 751,600 762,600 790,600 806,600 836,600 886,600 716,601 731,601 749,601 801,601 803,601 806,601 807,601 725,602 736,602 754,602 755,602 760,602 767,602 770,602 790,602 821,602 822,602 719,603 744,603 747,603 749,603 757,603 761,603 769,603 791,603 810,603 819,603 829,603 716,604 721,604 722,604 724,604 742,604 765,604 776,604 782,604 784,604 807,604 818,604 833,604 872,604 721,605 745,605 763,605 766,605 767,605 773,605 776,605 792,605 795,605 830,605 714,606 715,606 721,606 728,606 748,606 751,606 761,606 762,606 778,606 779,606 782,606 786,606 795,606 850,606 721,607 760,607 772,607 785,607 786,607 794,607 796,607 811,607 718,608 721,608 746,608 754,608 782,608 794,608 802,608 806,608 816,608 829,608 842,608 715,609 720,609 727,609 731,609 739,609 750,609 761,609 766,609 770,609 772,609 777,609 813,609 814,609 829,609 833,609 846,609 712,610 714,610 715,610 719,610 722,610 736,610 780,610 789,610 793,610 833,610 854,610 714,611 718,611 726,611 733,611 772,611 778,611 780,611 781,611 798,611 821,611 832,611 712,612 714,612 721,612 732,612 733,612 734,612 743,612 751,612 765,612 779,612 784,612 841,612 852,612 883,612 718,613 740,613 748,613 757,613 761,613 778,613 780,613 787,613 795,613 812,613 815,613 860,613 717,614 735,614 738,614 739,614 741,614 744,614 747,614 754,614 771,614 787,614 798,614 814,614 879,614 714,615 716,615 719,615 720,615 727,615 732,615 735,615 738,615 741,615 749,615 750,615 760,615 783,615 784,615 788,615 798,615 803,615 810,615 712,616 719,616 730,616 740,616 741,616 758,616 769,616 770,616 773,616 778,616 796,616 800,616 801,616 827,616 711,617 738,617 739,617 752,617 764,617 776,617 797,617 834,617 718,618 719,618 739,618 749,618 765,618 771,618 772,618 780,618 806,618 824,618 837,618 838,618 712,619 715,619 735,619 738,619 741,619 748,619 759,619 788,619 794,619 798,619 816,619 819,619 845,619 858,619 710,620 715,620 747,620 750,620 751,620 755,620 758,620 763,620 776,620 792,620 795,620 802,620 807,620 827,620 838,620 843,620 874,620 712,621 714,621 715,621 719,621 747,621 774,621 803,621 808,621 837,621 846,621 712,622 714,622 718,622 743,622 752,622 758,622 783,622 793,622 813,622 828,622 717,623 719,623 746,623 757,623 788,623 799,623 807,623 810,623 813,623 712,624 718,624 719,624 747,624 758,624 761,624 762,624 781,624 795,624 824,624 875,624 712,625 714,625 758,625 771,625 774,625 791,625 810,625 715,626 752,626 760,626 770,626 772,626 775,626 777,626 778,626 782,626 786,626 796,626 802,626 816,626 858,626 752,627 754,627 762,627 763,627 775,627 777,627 785,627 795,627 799,627 819,627 708,628 714,628 716,628 760,628 767,628 827,628 712,629 714,629 759,629 769,629 799,629 800,629 807,629 826,629 829,629 877,629 709,630 714,630 715,630 718,630 757,630 764,630 779,630 790,630 800,630 850,630 710,631 711,631 715,631 765,631 769,631 774,631 854,631 712,632 716,632 761,632 763,632 776,632 781,632 788,632 811,632 829,632 830,632 850,632 855,632 858,632 713,633 716,633 717,633 763,633 764,633 768,633 771,633 798,633 800,633 711,634 712,634 715,634 761,634 762,634 768,634 780,634 792,634 796,634 800,634 802,634 809,634 816,634 819,634 846,634 711,635 761,635 775,635 777,635 788,635 800,635 865,635 710,636 711,636 713,636 762,636 765,636 770,636 830,636 832,636 836,636 709,637 715,637 716,637 764,637 765,637 777,637 816,637 824,637 828,637 714,638 764,638 770,638 779,638 794,638 818,638 826,638 843,638 715,639 764,639 771,639 783,639 791,639 796,639 801,639 805,639 813,639 839,639 844,639 710,640 714,640 715,640 765,640 791,640 814,640 711,641 771,641 773,641 781,641 795,641 808,641 822,641 826,641 716,642 770,642 771,642 772,642 778,642 783,642 809,642 710,643 713,643 769,643 772,643 791,643 796,643 811,643 832,643 714,644 769,644 777,644 779,644 795,644 799,644 800,644 811,644 841,644 713,645 714,645 770,645 773,645 777,645 804,645 816,645 843,645 872,645 711,646 768,646 769,646 771,646 772,646 775,646 779,646 785,646 788,646 836,646 847,646 769,647 777,647 778,647 786,647 831,647 850,647 714,648 768,648 778,648 779,648 795,648 814,648 827,648 876,648 707,649 779,649 784,649 798,649 805,649 810,649 826,649 844,649 853,649 708,650 714,650 770,650 775,650 776,650 783,650 788,650 867,650 705,651 708,651 709,651 711,651 712,651 788,651 789,651 801,651 705,652 710,652 712,652 770,652 773,652 776,652 780,652 786,652 789,652 804,652 806,652 705,653 707,653 710,653 711,653 714,653 773,653 775,653 782,653 798,653 806,653 807,653 815,653 816,653 817,653 818,653 882,653 708,654 713,654 770,654 776,654 777,654 778,654 795,654 805,654 809,654 841,654 705,655 776,655 805,655 874,655 895,655 708,656 712,656 776,656 787,656 792,656 797,656 802,656 803,656 810,656 822,656 854,656 701,657 709,657 710,657 772,657 786,657 792,657 801,657 802,657 803,657 806,657 818,657 706,658 707,658 713,658 771,658 772,658 777,658 789,658 796,658 804,658 807,658 817,658 821,658 827,658 706,659 708,659 710,659 774,659 776,659 806,659 870,659 772,660 773,660 774,660 709,661 780,661 782,661 794,661 807,661 808,661 701,662 707,662 711,662 784,662 791,662 792,662 803,662 804,662 811,662 840,662 845,662 857,662 882,662 702,663 706,663 783,663 788,663 796,663 798,663 805,663 815,663 830,663 848,663 712,664 773,664 777,664 780,664 788,664 794,664 820,664 832,664 700,665 705,665 712,665 775,665 778,665 779,665 786,665 787,665 788,665 800,665 809,665 817,665 707,666 773,666 777,666 788,666 795,666 796,666 877,666 700,667 705,667 778,667 780,667 782,667 786,667 803,667 835,667 705,668 707,668 772,668 776,668 777,668 780,668 782,668 796,668 799,668 819,668 854,668 701,669 708,669 772,669 775,669 780,669 789,669 800,669 815,669 818,669 821,669 778,670 782,670 783,670 784,670 814,670 818,670 843,670 703,671 705,671 773,671 775,671 792,671 812,671 819,671 836,671 701,672 702,672 781,672 787,672 817,672 819,672 832,672 703,673 704,673 777,673 785,673 791,673 795,673 804,673 704,674 786,674 801,674 818,674 854,674 705,675 776,675 786,675 805,675 832,675 873,675 697,676 702,676 706,676 707,676 780,676 799,676 811,676 822,676 838,676 706,677 779,677 782,677 786,677 805,677 813,677 697,678 778,678 784,678 799,678 821,678 702,679 709,679 775,679 776,679 794,679 795,679 774,680 780,680 783,680 797,680 799,680 803,680 807,680 809,680 811,680 700,681 704,681 705,681 706,681 707,681 708,681 777,681 782,681 784,681 790,681 802,681 806,681 868,681 700,682 793,682 799,682 705,683 707,683 708,683 778,683 808,683 814,683 843,683 861,683 862,683 702,684 783,684 793,684 803,684 806,684 810,684 837,684 706,685 785,685 794,685 813,685 817,685 841,685 704,686 706,686 708,686 774,686 775,686 783,686 795,686 815,686 825,686 831,686 708,687 774,687 776,687 780,687 793,687 806,687 809,687 819,687 825,687 700,688 702,688 774,688 777,688 780,688 781,688 782,688 805,688 827,688 708,689 778,689 806,689 807,689 824,689 700,690 701,690 706,690 778,690 787,690 802,690 813,690 774,691 778,691 782,691 799,691 812,691 820,691 825,691 705,692 708,692 775,692 776,692 777,692 780,692 782,692 784,692 786,692 787,692 861,692 707,693 789,693 810,693 815,693 819,693 840,693 699,694 700,694 702,694 707,694 703,695 707,695 776,695 779,695 787,695 796,695 804,695 805,695 824,695 835,695 875,695 699,696 707,696 774,696 777,696 785,696 809,696 812,696 819,696 836,696 849,696 778,697 787,697 802,697 805,697 824,697 780,698 781,698 788,698 800,698 807,698 809,698 812,698 703,699 707,699 778,699 783,699 816,699 821,699 825,699 699,700 707,700 778,700 802,700 805,700 826,700 833,700 702,701 706,701 773,701 781,701 797,701 798,701 803,701 778,702 792,702 796,702 838,702 702,703 777,703 782,703 787,703 791,703 795,703 806,703 774,704 776,704 779,704 784,704 795,704 799,704 810,704 815,704 816,704 863,704 699,705 700,705 705,705 775,705 776,705 778,705 794,705 803,705 820,705 852,705 776,706 778,706 779,706 798,706 801,706 810,706 844,706 875,706 702,707 705,707 791,707 793,707 805,707 815,707 821,707 856,707 698,708 699,708 703,708 704,708 706,708 794,708 799,708 869,708 700,709 701,709 702,709 775,709 777,709 778,709 780,709 785,709 805,709 696,710 699,710 701,710 702,710 704,710 773,710 784,710 785,710 791,710 811,710 817,710 849,710 702,711 703,711 773,711 774,711 775,711 784,711 801,711 804,711 831,711 871,711 785,712 805,712 809,712 812,712 703,713 777,713 781,713 790,713 801,713 809,713 696,714 782,714 783,714 788,714 789,714 796,714 700,715 702,715 705,715 774,715 780,715 782,715 852,715 695,716 701,716 704,716 772,716 799,716 806,716 807,716 812,716 814,716 697,717 699,717 704,717 778,717 798,717 802,717 803,717 811,717 845,717 772,718 780,718 792,718 799,718 813,718 821,718 699,719 700,719 704,719 774,719 775,719 776,719 778,719 780,719 788,719 792,719 794,719 801,719 697,720 772,720 774,720 788,720 796,720 811,720 701,721 773,721 774,721 782,721 790,721 792,721 807,721 844,721 848,721 861,721 697,722 702,722 704,722 788,722 798,722 823,722 699,723 701,723 773,723 776,723 796,723 800,723 805,723 809,723 823,723 692,724 773,724 774,724 788,724 790,724 812,724 702,725 703,725 772,725 776,725 800,725 697,726 700,726 703,726 770,726 779,726 781,726 789,726 793,726 795,726 797,726 818,726 693,727 697,727 698,727 701,727 702,727 703,727 770,727 779,727 812,727 814,727 815,727 817,727 838,727 692,728 696,728 697,728 698,728 701,728 703,728 771,728 785,728 786,728 790,728 796,728 820,728 700,729 772,729 773,729 777,729 789,729 795,729 810,729 862,729 700,730 772,730 774,730 775,730 782,730 694,731 695,731 699,731 770,731 772,731 701,732 778,732 782,732 783,732 791,732 813,732 692,733 696,733 697,733 770,733 790,733 801,733 820,733 697,734 699,734 797,734 799,734 800,734 804,734 805,734 770,735 772,735 775,735 780,735 783,735 787,735 791,735 796,735 805,735 691,736 695,736 697,736 772,736 778,736 783,736 810,736 771,737 772,737 774,737 775,737 809,737 696,738 697,738 698,738 768,738 770,738 778,738 785,738 799,738 813,738 790,739 815,739 693,740 696,740 699,740 769,740 770,740 773,740 774,740 780,740 801,740 691,741 692,741 694,741 780,741 789,741 816,741 693,742 768,742 770,742 778,742 691,743 692,743 699,743 769,743 778,743 785,743 797,743 799,743 812,743 693,744 697,744 698,744 769,744 776,744 778,744 783,744 785,744 796,744 689,745 690,745 693,745 697,745 698,745 769,745 784,745 696,746 767,746 770,746 773,746 780,746 781,746 785,746 769,747 772,747 780,747 784,747 786,747 788,747 794,747 802,747 817,747 777,748 785,748 794,748 697,749 768,749 769,749 771,749 779,749 787,749 808,749 812,749 826,749 689,750 691,750 693,750 697,750 687,751 689,751 691,751 697,751 768,751 770,751 771,751 783,751 791,751 839,751 688,752 690,752 769,752 777,752 779,752 789,752 792,752 795,752 692,753 770,753 772,753 774,753 777,753 795,753 688,754 766,754 789,754 792,754 688,755 694,755 766,755 767,755 775,755 788,755 693,756 782,756 795,756 798,756 690,757 692,757 694,757 765,757 768,757 769,757 775,757 783,757 689,758 692,758 693,758 765,758 772,758 782,758 797,758 691,759 692,759 699,759 702,759 704,759 715,759 723,759 728,759 729,759 734,759 736,759 737,759 743,759 746,759 758,759 760,759 764,759 765,759 768,759 784,759 790,759 794,759 686,760 690,760 696,760 714,760 723,760 738,760 741,760 745,760 753,760 764,760 766,760 774,760 785,760 792,760 691,761 695,761 705,761 714,761 721,761 725,761 733,761 734,761 743,761 746,761 748,761 749,761 750,761 757,761 758,761 761,761 767,761 768,761 791,761 683,762 687,762 695,762 706,762 710,762 723,762 726,762 727,762 730,762 743,762 748,762 756,762 757,762 773,762 779,762 786,762 804,762 687,763 689,763 691,763 713,763 715,763 717,763 721,763 725,763 730,763 732,763 744,763 745,763 753,763 755,763 798,763 812,763 687,764 691,764 698,764 700,764 703,764 705,764 717,764 718,764 726,764 727,764 735,764 738,764 740,764 742,764 750,764 751,764 752,764 754,764 760,764 770,764 784,764 683,765 697,765 698,765 699,765 707,765 714,765 719,765 723,765 724,765 728,765 729,765 735,765 740,765 747,765 757,765 760,765 761,765 764,765 767,765 769,765 780,765 801,765 689,766 696,766 699,766 703,766 709,766 722,766 729,766 740,766 752,766 753,766 760,766 765,766 767,766 768,766 770,766 773,766 776,766 794,766 685,767 693,767 697,767 701,767 703,767 709,767 710,767 715,767 717,767 725,767 746,767 752,767 753,767 754,767 755,767 768,767 775,767 776,767 779,767 787,767 899,171 957,197 987,259 1030,269 841,271 809,278 928,282 914,298 928,294 941,294 986,296 997,310 1052,324 772,300 785,307 930,327 764,329 770,334 801,335 818,342 831,342 842,331 853,338 860,333 782,351 788,347 920,345 955,346 890,348 901,348 868,355 881,358 819,358 831,354 775,370 774,373 825,370 837,370 863,368 907,363 917,361 958,360 968,368 971,368 928,373 925,376 1022,377 789,396 813,389 819,394 811,405 841,403 853,409 850,416 876,404 888,404 890,404 912,400 929,392 947,389 957,402 982,397 754,409 768,410 749,420 747,422 753,426 760,428 763,432 747,438 761,437 771,437 783,428 787,436 787,440 802,413 808,418 802,424 809,429 821,414 825,414 820,422 849,443 868,429 887,416 899,420 901,422 917,428 927,432 933,433 941,422 944,427 957,431 998,423 1014,426 1038,446 890,434 903,441 911,441 920,443 948,445 963,447 938,449 833,449 859,447 897,451 927,456 938,452 958,453 973,461 953,469 990,474 970,481 951,481 945,482 930,481 927,475 909,472 914,471 921,470 890,474 898,481 906,481 886,495 897,495 900,498 959,490 958,493 908,507 918,505 951,519 996,526 892,518 906,518 908,524 899,526 899,535 909,537 927,532 931,541 930,550 951,533 961,533 886,544 919,555 902,559 902,566 900,574 886,562 932,568 943,576 944,581 918,580 897,581 904,590 954,597 910,603 955,622 909,632 893,625 886,632 899,641 919,671 932,670 1029,668 884,672 867,703 836,697 836,713 825,716 826,700 808,741 804,757 809,733 835,697 835,712 825,715 823,701 820,695 840,676 850,683 845,667 858,653 873,643 873,661 876,683 866,630 873,623 868,618 881,671 810,739 802,758 787,759 794,745 809,731 815,719" fill="none" stroke="none" marker-start="url(#a)" marker-mid="url(#a)" marker-end="url(#a)"/><polyline points="1429,411 1427,413 1440,416 1417,417 1412,425 1428,425 1438,425 1442,428 1432,430 1436,436 1448,440 1403,442 1390,443 1444,444 1457,444 1411,446 1428,447 1438,451 1447,451 1438,452 1448,456 1411,457 1404,458 1424,458 1405,459 1407,459 1409,459 1436,459 1438,459 1401,460 1409,460 1411,463 1419,463 1420,463 1392,465 1403,466 1414,466 1448,466 1406,467 1418,467 1421,467 1442,467 1424,468 1429,468 1466,468 1403,469 1406,469 1421,470 1427,473 1392,474 1405,475 1441,475 1381,476 1413,477 1394,478 1415,481 1434,481 1415,482 1391,483 1417,483 1434,483 1384,484 1389,484 1372,485 1390,486 1394,486 1414,487 1393,489 1398,489 1378,490 1382,490 1388,490 1397,490 1399,490 1386,491 1391,491 1409,491 1386,492 1410,493 1399,495 1408,495 1423,496 1412,497 1393,498 1372,499 1409,499 1404,500 1411,500 1398,501 1426,501 1375,503 1391,503 1398,503 1413,503 1430,503 1389,505 1394,505 1400,505 1404,505 1392,506 1408,506 1417,506 1368,507 1370,508 1372,508 1397,508 1412,508 1375,509 1359,510 1363,510 1409,510 1372,511 1373,511 1429,511 1367,512 1369,512 1374,512 1389,512 1398,512 1373,514 1385,514 1386,514 1388,514 1416,514 1385,515 1389,515 1405,515 1423,515 1376,516 1379,516 1386,516 1410,516 1371,517 1395,517 1410,517 1419,517 1379,518 1393,518 1409,518 1366,519 1375,519 1387,519 1375,520 1380,520 1387,520 1376,521 1388,521 1395,521 1396,521 1373,522 1387,522 1393,522 1371,523 1376,523 1381,523 1389,523 1429,523 1370,524 1373,525 1375,525 1399,525 1375,526 1387,526 1392,526 1395,526 1379,527 1382,527 1398,527 1385,528 1387,528 1389,528 1390,528 1394,528 1410,528 1385,529 1398,529 1368,530 1371,530 1378,530 1382,530 1383,530 1389,530 1392,530 1404,530 1407,530 1365,531 1378,531 1384,531 1372,532 1381,532 1382,532 1387,532 1392,532 1393,532 1376,533 1377,533 1393,533 1370,534 1373,534 1380,534 1384,534 1385,534 1402,534 1405,534 1365,535 1379,535 1380,535 1387,535 1389,535 1398,535 1359,536 1378,536 1394,536 1358,537 1364,537 1374,537 1380,537 1391,537 1392,537 1393,537 1399,537 1409,537 1369,538 1398,538 1399,538 1407,538 1352,539 1373,539 1376,539 1382,539 1384,539 1395,539 1372,540 1394,540 1382,541 1383,541 1361,542 1384,542 1386,542 1387,542 1388,542 1396,542 1362,543 1392,543 1383,544 1395,544 1399,544 1366,545 1382,545 1386,545 1395,545 1348,546 1359,546 1360,546 1366,546 1382,546 1343,547 1350,547 1366,547 1372,547 1379,547 1387,547 1380,548 1382,548 1385,548 1393,548 1357,549 1358,549 1374,549 1382,549 1384,549 1373,550 1374,550 1382,550 1404,550 1361,551 1395,551 1396,551 1358,552 1365,552 1371,552 1381,552 1387,552 1390,552 1405,552 1348,553 1351,553 1362,553 1366,553 1372,553 1388,553 1391,553 1394,553 1369,554 1387,554 1388,554 1359,555 1366,555 1370,555 1377,555 1384,555 1349,556 1361,556 1372,556 1380,556 1382,556 1383,556 1396,556 1357,557 1365,557 1353,558 1355,558 1356,558 1369,558 1371,558 1380,558 1376,559 1379,559 1385,559 1394,559 1400,559 1339,560 1349,560 1352,560 1354,560 1364,560 1365,560 1366,560 1373,560 1390,560 1393,560 1339,561 1347,561 1375,561 1380,561 1394,561 1397,561 1401,561 1352,562 1356,562 1370,562 1377,562 1379,562 1380,562 1335,563 1340,563 1358,563 1370,563 1371,563 1372,563 1373,563 1380,563 1384,563 1386,563 1340,564 1344,564 1345,564 1349,564 1351,564 1353,564 1354,564 1355,564 1365,564 1368,564 1377,564 1382,564 1341,565 1347,565 1351,565 1369,565 1374,565 1385,565 1389,565 1397,565 1336,566 1342,566 1343,566 1347,566 1349,566 1353,566 1358,566 1362,566 1367,566 1368,566 1372,566 1378,566 1341,567 1345,567 1347,567 1351,567 1354,567 1359,567 1380,567 1388,567 1343,568 1344,568 1347,568 1358,568 1364,568 1365,568 1388,568 1394,568 1340,569 1344,569 1346,569 1347,569 1352,569 1358,569 1359,569 1362,569 1370,569 1372,569 1387,569 1356,570 1357,570 1359,570 1366,570 1382,570 1386,570 1350,571 1355,571 1356,571 1358,571 1360,571 1362,571 1364,571 1368,571 1396,571 1344,572 1366,572 1367,572 1369,572 1378,572 1388,572 1346,573 1368,573 1379,573 1387,573 1340,574 1343,574 1346,574 1363,574 1368,574 1369,574 1374,574 1384,574 1387,574 1389,574 1337,575 1344,575 1345,575 1346,575 1364,575 1365,575 1366,575 1377,575 1385,575 1333,576 1343,576 1369,576 1379,576 1387,576 1334,577 1341,577 1366,577 1385,577 1338,578 1341,578 1365,578 1366,578 1369,578 1389,578 1391,578 1336,579 1364,579 1368,579 1370,579 1379,579 1393,579 1336,580 1338,580 1366,580 1381,580 1391,580 1337,581 1338,581 1339,581 1340,581 1362,581 1368,581 1338,582 1339,582 1340,582 1341,582 1370,582 1373,582 1381,582 1337,583 1338,583 1339,583 1374,583 1382,583 1388,583 1341,584 1378,584 1382,584 1384,584 1336,585 1342,585 1359,585 1360,585 1367,585 1371,585 1372,585 1375,585 1378,585 1337,586 1339,586 1341,586 1363,586 1380,586 1383,586 1385,586 1325,587 1333,587 1334,587 1338,587 1362,587 1365,587 1370,587 1377,587 1378,587 1337,588 1338,588 1358,588 1363,588 1366,588 1374,588 1336,589 1340,589 1358,589 1359,589 1362,589 1364,589 1367,590 1381,590 1392,590 1334,591 1340,591 1341,591 1356,591 1363,591 1333,592 1336,592 1337,592 1338,592 1339,592 1340,592 1356,592 1357,592 1363,592 1388,592 1330,593 1340,593 1356,593 1357,593 1378,593 1325,594 1338,594 1340,594 1358,594 1328,595 1330,595 1332,595 1357,595 1361,595 1327,596 1338,596 1354,596 1355,596 1358,596 1360,596 1376,596 1381,596 1327,597 1336,597 1355,597 1360,597 1361,597 1380,597 1339,598 1357,598 1358,598 1359,598 1365,598 1370,598 1377,598 1380,598 1352,599 1359,599 1371,599 1374,599 1377,599 1324,600 1331,600 1333,600 1334,600 1352,600 1371,600 1327,601 1337,601 1354,601 1368,601 1337,602 1356,602 1363,602 1364,602 1384,602 1329,603 1331,603 1337,603 1356,603 1357,603 1365,603 1383,603 1363,604 1369,604 1373,604 1332,605 1333,605 1335,605 1350,605 1357,605 1363,605 1324,606 1334,606 1352,606 1356,606 1366,606 1328,607 1331,607 1333,607 1335,607 1351,607 1357,607 1335,608 1350,608 1355,608 1328,609 1330,609 1333,609 1352,609 1323,610 1332,610 1349,610 1354,610 1360,610 1365,610 1369,610 1372,610 1373,610 1321,611 1328,611 1329,611 1349,611 1350,611 1330,612 1331,613 1348,613 1352,613 1355,613 1327,614 1331,614 1333,614 1350,614 1354,614 1355,614 1359,614 1321,615 1331,615 1359,615 1367,615 1348,616 1349,616 1350,616 1329,617 1350,617 1352,617 1360,617 1363,617 1333,618 1353,618 1324,619 1326,619 1330,619 1333,619 1347,619 1350,619 1352,619 1353,619 1356,619 1346,620 1350,620 1326,621 1346,621 1348,621 1349,621 1351,621 1323,622 1329,622 1354,622 1331,623 1333,623 1352,623 1353,623 1326,624 1328,624 1329,624 1330,624 1332,624 1352,624 1355,624 1360,624 1322,625 1325,625 1326,625 1332,625 1344,625 1349,625 1350,625 1351,625 1355,625 1323,626 1328,626 1346,626 1350,626 1352,626 1361,626 1318,627 1325,627 1328,627 1330,627 1347,627 1350,627 1323,628 1326,628 1328,628 1331,628 1347,628 1348,628 1358,628 1325,629 1327,629 1345,629 1310,630 1326,630 1343,630 1344,630 1346,630 1327,631 1344,631 1346,631 1347,631 1320,632 1327,632 1345,632 1349,632 1342,633 1346,633 1348,633 1316,634 1317,634 1322,634 1323,634 1326,634 1341,634 1325,635 1326,635 1341,635 1342,635 1346,635 1321,636 1345,637 1322,638 1343,638 1316,639 1317,639 1319,639 1321,639 1324,639 1343,639 1347,639 1323,640 1340,640 1342,640 1344,640 1316,641 1317,641 1338,641 1316,642 1322,642 1316,643 1318,643 1322,643 1322,644 1339,644 1318,645 1338,645 1339,645 1342,645 1344,645 1321,646 1337,646 1339,646 1341,646 1316,647 1342,647 1313,648 1320,648 1335,648 1339,648 1310,649 1312,649 1314,649 1318,649 1312,650 1313,650 1335,650 1337,650 1338,650 1339,650 1341,650 1318,651 1338,651 1339,651 1341,651 1316,652 1336,652 1341,652 1342,652 1317,653 1333,653 1334,653 1310,654 1311,654 1312,654 1314,654 1316,654 1317,654 1316,655 1337,655 1339,655 1309,656 1311,656 1333,656 1334,656 1335,656 1339,656 1308,657 1315,657 1333,657 1337,657 1338,657 1303,658 1339,658 1307,659 1313,659 1330,659 1332,659 1307,660 1308,660 1309,660 1310,660 1332,660 1335,660 1305,661 1330,661 1339,661 1305,662 1329,662 1335,662 1304,663 1308,663 1306,664 1310,664 1308,665 1311,665 1327,665 1331,665 1332,665 1304,666 1334,666 1305,667 1309,667 1327,667 1328,667 1303,668 1329,668 1301,669 1304,669 1309,669 1331,669 1302,670 1303,670 1309,670 1330,670 1333,670 1335,670 1302,671 1307,671 1332,671 1300,672 1304,672 1306,672 1308,672 1332,672 1325,673 1332,673 1298,674 1299,674 1306,674 1307,674 1326,674 1328,674 1329,674 1330,674 1301,675 1305,675 1323,675 1327,675 1333,675 1297,676 1324,676 1330,676 1300,677 1303,677 1323,677 1326,677 1325,678 1326,678 1328,678 1300,679 1322,679 1331,679 1296,680 1299,680 1325,680 1326,680 1329,680 1331,680 1295,681 1327,681 1329,681 1302,682 1321,682 1329,682 1295,683 1320,683 1324,683 1296,684 1297,684 1300,684 1319,684 1320,684 1324,684 1327,684 1297,685 1299,685 1291,686 1293,686 1297,686 1298,686 1327,686 1296,687 1319,687 1292,688 1318,688 1327,688 1292,689 1293,689 1296,689 1297,689 1317,689 1323,689 1320,690 1320,691 1325,691 1290,692 1297,692 1290,693 1292,693 1293,693 1294,693 1315,693 1317,693 1319,693 1286,694 1291,694 1317,694 1318,694 1287,695 1288,695 1289,695 1292,695 1293,695 1295,696 1312,696 1314,696 1315,696 1323,696 1286,697 1290,697 1294,697 1314,697 1318,697 1290,698 1294,698 1287,699 1288,699 1289,699 1290,699 1318,699 1289,700 1293,700 1310,700 1283,701 1291,701 1309,701 1310,701 1312,701 1286,702 1307,702 1310,702 1286,703 1288,703 1308,703 1309,703 1310,703 1312,703 1314,703 1283,704 1284,704 1285,704 1287,704 1307,704 1308,704 1310,704 1289,705 1308,705 1280,706 1286,706 1280,707 1287,707 1288,707 1307,707 1285,708 1287,708 1303,708 1306,708 1308,708 1314,708 1284,709 1286,709 1287,709 1289,709 1302,709 1305,709 1311,709 1281,710 1283,710 1305,710 1312,710 1280,711 1286,711 1287,711 1306,711 1307,711 1303,712 1305,712 1309,712 1280,713 1281,713 1282,713 1302,713 1306,713 1300,714 1303,714 1304,714 1299,715 1280,716 1299,716 1275,717 1282,717 1285,717 1301,717 1278,718 1282,718 1302,718 1303,718 1304,719 1280,720 1301,720 1302,720 1304,720 1305,720 1281,721 1303,721 1274,722 1280,722 1281,722 1283,722 1300,722 1304,722 1271,724 1276,724 1279,724 1294,724 1305,724 1276,725 1297,725 1301,725 1275,726 1276,726 1295,726 1296,726 1276,727 1293,727 1295,727 1298,727 1272,728 1280,728 1291,728 1293,728 1294,728 1299,728 1273,729 1277,729 1279,729 1291,729 1292,730 1295,730 1297,730 1275,731 1278,731 1289,731 1295,731 1298,731 1274,732 1275,732 1278,732 1291,732 1296,732 1272,733 1276,733 1290,733 1295,733 1276,734 1290,734 1294,734 1269,735 1274,736 1277,736 1294,737 1268,738 1270,738 1272,738 1273,738 1276,738 1285,738 1286,738 1290,738 1274,739 1284,739 1290,739 1271,740 1269,741 1272,741 1274,741 1275,741 1282,742 1268,743 1273,743 1285,743 1288,743 1283,744 1286,744 1287,744 1289,744 1290,744 1285,745 1287,745 1269,746 1273,746 1282,746 1262,747 1264,747 1267,747 1273,747 1266,748 1271,748 1283,748 1285,749 1289,749 1265,750 1267,750 1279,750 1280,750 1281,750 1262,751 1265,751 1278,751 1281,751 1283,752 1262,753 1267,753 1283,753 1264,754 1266,754 1267,754 1265,755 1275,755 1286,755 1261,756 1282,756 1284,756 1264,757 1265,757 1267,757 1284,757 1261,758 1263,758 1268,758 1260,759 1267,759 1274,759 1278,759 1267,760 1277,760 1276,761 1281,761 1273,762 1279,762 1263,763 1272,763 1275,763 1281,763 1259,764 1260,764 1273,764 1274,764 1279,764 1261,765 1272,765 1277,765 1279,765 1257,766 1260,766 1264,766 1269,766 1271,766 1272,766 1274,766 1275,766 1280,766 1261,767 1272,767 1275,767 1254,768 1259,768 1262,768 1263,768 1269,768 1270,768 1272,768 1262,769 1270,769 1271,769 1254,770 1259,770 1260,770 1262,770 1268,770 1259,771 1261,771 1267,771 1268,771 1270,771 1272,771 1277,771 1258,772 1260,772 1261,772 1255,773 1269,773 1272,773 1275,773 1256,774 1257,774 1259,774 1266,774 1267,774 1269,774 1255,775 1273,775 1274,775 1255,776 1276,776 1252,777 1253,777 1264,777 1253,778 1257,778 1259,778 1269,778 1273,778 1265,779 1269,779 1252,780 1255,780 1268,780 1271,780 1253,781 1261,781 1262,781 1265,781 1266,781 1268,781 1251,782 1256,782 1262,782 1266,782 1269,782 1260,783 1267,783 1249,784 1252,784 1255,784 1261,784 1267,784 1252,785 1253,785 1257,785 1252,786 1262,786 1267,786 1253,787 1256,787 1246,788 1248,788 1262,788 1249,789 1253,789 1254,789 1257,789 1252,790 1254,790 1259,790 1263,790 1248,791 1250,791 1252,791 1253,791 1262,791 1246,792 1249,792 1252,792 1253,792 1261,792 1241,793 1247,793 1256,793 1263,793 1248,794 1256,794 1245,795 1251,795 1254,796 1258,796 1260,796 1243,797 1249,797 1257,797 1262,797 1236,798 1245,798 1248,798 1254,798 1256,799 1243,800 1244,800 1256,800 1239,801 1240,801 1249,801 1250,801 1235,802 1243,802 1252,802 1254,802 1251,803 1243,804 1251,804 1252,804 1232,805 1237,805 1243,805 1247,805 1252,805 1236,806 1238,806 1239,806 1241,806 1245,806 1253,806 1254,806 1238,807 1240,807 1242,807 1246,807 1249,807 1251,807 1252,807 1256,807 1234,808 1240,808 1234,809 1240,809 1241,809 1242,809 1245,809 1249,809 1251,809 1236,810 1237,810 1241,810 1244,810 1250,810 1252,810 1234,811 1235,811 1244,811 1245,811 1248,811 1249,811 1234,812 1236,812 1243,812 1244,813 1245,813 1255,813 1238,814 1239,814 1243,814 1236,815 1241,815 1234,816 1235,816 1237,816 1239,816 1241,816 1233,817 1235,817 1236,817 1237,817 1239,817 1247,817 1239,818 1239,819 1243,819 1231,820 1243,820 1236,821 1243,821 1239,822 1237,823 1240,823 1244,824 1239,825 1601,119 1571,132 1545,169 1546,215 1579,195 1587,219 1576,234 1515,222 1522,233 1505,251 1496,272 1507,271 1485,283 1479,289 1477,301 1500,293 1490,308 1500,307 1530,276 1538,284 1545,291 1534,300 1518,293 1563,318 1536,331 1519,342 1468,319 1478,321 1466,331 1475,329 1465,340 1478,344 1478,346 1455,351 1460,349 1463,363 1504,329 1507,338 1503,341 1506,351 1508,358 1509,360 1448,362 1447,367 1449,370 1437,378 1443,378 1450,380 1455,377 1447,385 1450,387 1430,390 1437,392 1442,395 1447,399 1454,390 1491,370 1488,372 1481,377 1477,382 1479,385 1494,380 1498,378 1504,378 1503,389 1503,397 1469,390 1425,408 1433,409 1479,405 1489,411 1415,419 1479,419 1475,461 1467,489 1448,484 1433,497 1415,559 1425,537 1429,537 1398,585 1397,595 1488,412 1480,406 1502,396 1502,390 1480,421 1477,435 1339,706 1320,708 1322,711 1304,737 1271,706 1285,683 1373,643 1358,652 1351,664 1341,675 1337,684 1254,759 1265,792" fill="none" stroke="none" marker-start="url(#a)" marker-mid="url(#a)" marker-end="url(#a)"/><rect x="126" y="50" width="417" height="2" fill="#ababab"/><rect x="126" y="50" width="1" height="798" fill="#858585"/><rect x="541" y="50" width="1" height="798" fill="#939393"/><rect x="542" y="50" width="1" height="798" fill="#d8d8d8"/><rect x="126" y="846" width="417" height="2" fill="#666"/><path d="M209 840h1v6h-1ZM209 52h1v6h-1ZM292 840h1v6h-1ZM292 52h1v6h-1ZM375 840h1v6h-1ZM375 52h1v6h-1ZM458 840h1v6h-1ZM458 52h1v6h-1ZM127 767h7v1h-7ZM535 767h7v1h-7ZM127 687h7v1h-7ZM535 687h7v1h-7ZM127 608h7v1h-7ZM535 608h7v1h-7ZM127 528h7v1h-7ZM535 528h7v1h-7ZM127 449h7v1h-7ZM535 449h7v1h-7ZM127 369h7v1h-7ZM535 369h7v1h-7ZM127 289h7v1h-7ZM535 289h7v1h-7ZM127 210h7v1h-7ZM535 210h7v1h-7ZM127 130h7v1h-7ZM535 130h7v1h-7Z" fill="#666"/><rect x="673" y="50" width="418" height="2" fill="#ababab"/><rect x="673" y="50" width="2" height="798" fill="#a2a2a2"/><rect x="1088" y="50" width="1" height="798" fill="#d4d4d4"/><rect x="1089" y="50" width="1" height="798" fill="#909090"/><rect x="673" y="846" width="418" height="2" fill="#666"/><path d="M757 840h1v6h-1ZM757 52h1v6h-1ZM840 840h1v6h-1ZM840 52h1v6h-1ZM923 840h1v6h-1ZM923 52h1v6h-1ZM1006 840h1v6h-1ZM1006 52h1v6h-1ZM674 767h7v1h-7ZM1083 767h7v1h-7ZM674 687h7v1h-7ZM1083 687h7v1h-7ZM674 608h7v1h-7ZM1083 608h7v1h-7ZM674 528h7v1h-7ZM1083 528h7v1h-7ZM674 449h7v1h-7ZM1083 449h7v1h-7ZM674 369h7v1h-7ZM1083 369h7v1h-7ZM674 289h7v1h-7ZM1083 289h7v1h-7ZM674 210h7v1h-7ZM1083 210h7v1h-7ZM674 130h7v1h-7ZM1083 130h7v1h-7Z" fill="#666"/><rect x="1221" y="50" width="418" height="2" fill="#ababab"/><rect x="1221" y="50" width="1" height="798" fill="#8c8c8c"/><rect x="1222" y="50" width="1" height="798" fill="#dadada"/><rect x="1636" y="50" width="2" height="798" fill="#a6a6a6"/><rect x="1221" y="846" width="418" height="2" fill="#666"/><path d="M1305 840h1v6h-1ZM1305 52h1v6h-1ZM1388 840h1v6h-1ZM1388 52h1v6h-1ZM1471 840h1v6h-1ZM1471 52h1v6h-1ZM1554 840h1v6h-1ZM1554 52h1v6h-1ZM1222 714h7v1h-7ZM1631 714h7v1h-7ZM1222 581h7v1h-7ZM1631 581h7v1h-7ZM1222 449h7v1h-7ZM1631 449h7v1h-7ZM1222 316h7v1h-7ZM1631 316h7v1h-7ZM1222 183h7v1h-7ZM1631 183h7v1h-7Z" fill="#666"/><text x="126.5" y="882.6" font-size="27" fill="#262626" text-anchor="middle">0</text><text x="209.6" y="882.6" font-size="27" fill="#262626" text-anchor="middle">1</text><text x="292.6" y="882.6" font-size="27" fill="#262626" text-anchor="middle">2</text><text x="375.7" y="882.6" font-size="27" fill="#262626" text-anchor="middle">3</text><text x="458.7" y="882.6" font-size="27" fill="#262626" text-anchor="middle">4</text><text x="541.8" y="882.6" font-size="27" fill="#262626" text-anchor="middle">5</text><text x="118.0" y="856.7" font-size="27" fill="#262626" text-anchor="end">0</text><text x="118.0" y="777.1" font-size="27" fill="#262626" text-anchor="end">100</text><text x="118.0" y="697.5" font-size="27" fill="#262626" text-anchor="end">200</text><text x="118.0" y="617.9" font-size="27" fill="#262626" text-anchor="end">300</text><text x="118.0" y="538.3" font-size="27" fill="#262626" text-anchor="end">400</text><text x="118.0" y="458.7" font-size="27" fill="#262626" text-anchor="end">500</text><text x="118.0" y="379.1" font-size="27" fill="#262626" text-anchor="end">600</text><text x="118.0" y="299.5" font-size="27" fill="#262626" text-anchor="end">700</text><text x="118.0" y="219.9" font-size="27" fill="#262626" text-anchor="end">800</text><text x="118.0" y="140.3" font-size="27" fill="#262626" text-anchor="end">900</text><text x="116.5" y="60.7" font-size="27" fill="#262626" text-anchor="end">1000</text><text x="674.0" y="882.6" font-size="27" fill="#262626" text-anchor="middle">0</text><text x="757.1" y="882.6" font-size="27" fill="#262626" text-anchor="middle">1</text><text x="840.1" y="882.6" font-size="27" fill="#262626" text-anchor="middle">2</text><text x="923.2" y="882.6" font-size="27" fill="#262626" text-anchor="middle">3</text><text x="1006.2" y="882.6" font-size="27" fill="#262626" text-anchor="middle">4</text><text x="1089.3" y="882.6" font-size="27" fill="#262626" text-anchor="middle">5</text><text x="665.5" y="856.7" font-size="27" fill="#262626" text-anchor="end">0</text><text x="665.5" y="777.1" font-size="27" fill="#262626" text-anchor="end">100</text><text x="665.5" y="697.5" font-size="27" fill="#262626" text-anchor="end">200</text><text x="665.5" y="617.9" font-size="27" fill="#262626" text-anchor="end">300</text><text x="665.5" y="538.3" font-size="27" fill="#262626" text-anchor="end">400</text><text x="665.5" y="458.7" font-size="27" fill="#262626" text-anchor="end">500</text><text x="665.5" y="379.1" font-size="27" fill="#262626" text-anchor="end">600</text><text x="665.5" y="299.5" font-size="27" fill="#262626" text-anchor="end">700</text><text x="665.5" y="219.9" font-size="27" fill="#262626" text-anchor="end">800</text><text x="665.5" y="140.3" font-size="27" fill="#262626" text-anchor="end">900</text><text x="664.0" y="60.7" font-size="27" fill="#262626" text-anchor="end">1000</text><text x="1222.6" y="882.6" font-size="27" fill="#262626" text-anchor="middle">0</text><text x="1305.7" y="882.6" font-size="27" fill="#262626" text-anchor="middle">1</text><text x="1388.7" y="882.6" font-size="27" fill="#262626" text-anchor="middle">2</text><text x="1471.8" y="882.6" font-size="27" fill="#262626" text-anchor="middle">3</text><text x="1554.8" y="882.6" font-size="27" fill="#262626" text-anchor="middle">4</text><text x="1637.9" y="882.6" font-size="27" fill="#262626" text-anchor="middle">5</text><text x="1213.1" y="856.7" font-size="27" fill="#262626" text-anchor="end">0</text><text x="1213.1" y="724.0" font-size="27" fill="#262626" text-anchor="end">100</text><text x="1213.1" y="591.4" font-size="27" fill="#262626" text-anchor="end">200</text><text x="1213.1" y="458.7" font-size="27" fill="#262626" text-anchor="end">300</text><text x="1213.1" y="326.0" font-size="27" fill="#262626" text-anchor="end">400</text><text x="1213.1" y="193.4" font-size="27" fill="#262626" text-anchor="end">500</text><text x="1213.1" y="60.7" font-size="27" fill="#262626" text-anchor="end">600</text><text x="300.2" y="23.9" font-size="28.6" font-weight="bold" fill="#000">E</text><text x="320.8" y="38.0" font-size="22.5" font-weight="bold" fill="#000">DLP</text><text x="854.5" y="23.9" font-size="28.6" font-weight="bold" fill="#000">E</text><text x="874.6" y="38.0" font-size="22.5" font-weight="bold" fill="#000">OD</text><text x="1414.8" y="23.9" font-size="28.6" font-weight="bold" fill="#000">E</text><text x="1435.3" y="38.0" font-size="22.5" font-weight="bold" fill="#000">r</text><text x="564.4" y="934.8" font-size="28.6" fill="#262626" textLength="635.5" lengthAdjust="spacingAndGlyphs">Risk Index (number of cancers per 100 patients)</text><text transform="translate(25.9 450.8) rotate(-90)" font-size="28.6" fill="#262626" text-anchor="middle">(mSv)</text><line x1="126.5" y1="847.0" x2="504.8" y2="156.9" stroke="#f00" stroke-width="3.6" stroke-linecap="butt"/><line x1="674.0" y1="847.0" x2="1052.2" y2="107.4" stroke="#f00" stroke-width="3.6" stroke-linecap="butt"/><line x1="1222.6" y1="847.0" x2="1600.9" y2="137.4" stroke="#0f0" stroke-width="3.6" stroke-linecap="butt"/></svg></body></html>
